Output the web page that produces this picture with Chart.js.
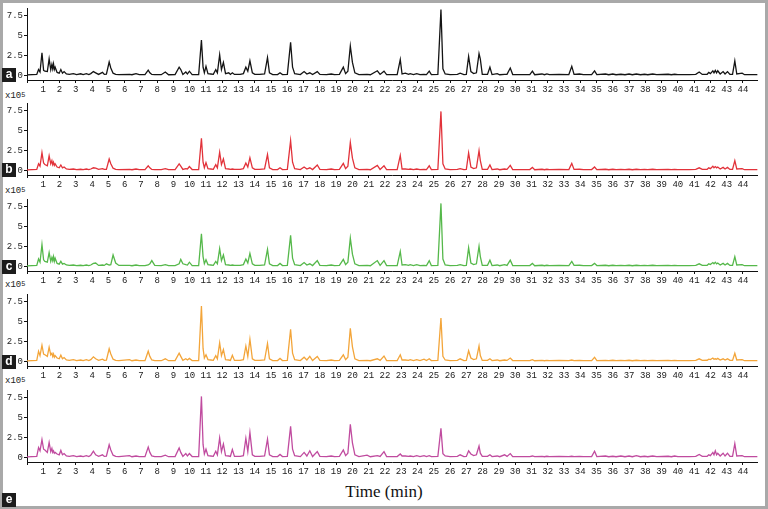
<!DOCTYPE html>
<html>
<head>
<meta charset="utf-8">
<script src="https://cdn.jsdelivr.net/npm/chart.js@4.4.0/dist/chart.umd.min.js"></script>
<style>
  html, body { margin: 0; padding: 0; background: #fff; }
  #wrap { position: relative; width: 768px; height: 509px; overflow: hidden; background: #fff; }
  #wrap canvas { position: absolute; left: 0; }
  .frame { position: absolute; left: 0; top: 0; width: 768px; height: 509px; box-sizing: border-box;
           border: 3px solid #a9a9a9; pointer-events: none; z-index: 5; }
  .tag { position: absolute; left: 2px; width: 14px; height: 14px; background: #1c1c1c; color: #fff;
         font: bold 12px 'Liberation Sans', Arial, sans-serif; line-height: 13px; text-align: center; z-index: 6; }
  .mult { position: absolute; left: 5px; font: 9px 'Liberation Mono', monospace; color: #222; line-height: 11px; }
  .mult sup { font-size: 7px; position: relative; top: -1px; vertical-align: top; }
  .xtitle { position: absolute; left: 0; width: 768px; top: 482px; text-align: center;
            font: 17px 'Liberation Serif', 'Times New Roman', serif; color: #111; }
</style>
</head>
<body>
<div id="wrap">
  <div class="frame"></div>
  <div class="tag" style="top:68px">a</div>
  <div class="tag" style="top:163px">b</div>
  <div class="tag" style="top:260px">c</div>
  <div class="tag" style="top:355px">d</div>
  <div class="tag" style="top:493px">e</div>
  <div class="mult" style="top:91px">x10<sup>5</sup></div>
  <div class="mult" style="top:186px">x10<sup>5</sup></div>
  <div class="mult" style="top:280px">x10<sup>5</sup></div>
  <div class="mult" style="top:376px">x10<sup>5</sup></div>
  <div class="xtitle">Time (min)</div>
</div>
<script>
// ── DATA ─────────────────────────────────────────────────────────────────────
// retention time (min), shared by all five traces
const times = [
  0, 0.6, 0.71, 0.8, 0.92, 1.02, 1.1, 1.25,
  1.36, 1.46, 1.53, 1.58, 1.63, 1.68, 1.73, 1.85, 1.98, 2.08, 2.18, 2.28, 2.42,
  2.6, 2.85, 3.05, 3.3, 3.45, 3.65, 3.8, 3.92, 4.08, 4.22, 4.4,
  4.64, 4.75, 4.88, 5.05, 5.15, 5.29, 5.45, 5.65,
  6.3, 6.45, 6.7, 6.9, 7.25, 7.45, 7.55, 7.67, 7.85, 8.25, 8.5, 8.7,
  9.1, 9.35, 9.45, 9.58, 9.76, 9.86, 9.98, 10.15,
  10.55, 10.72, 10.82, 10.9, 11.0, 11.12, 11.3, 11.45, 11.6, 11.7, 11.84, 11.95, 12.07, 12.2,
  12.4, 12.5, 12.62, 12.75, 13.1, 13.3, 13.45, 13.57, 13.7, 13.85, 14.0, 14.3,
  14.6, 14.78, 14.9, 15.1, 15.4, 15.55, 15.7, 16.0, 16.2, 16.32, 16.45,
  16.8, 17.03, 17.2, 17.38, 17.55, 17.84, 18.0, 18.4, 18.7, 18.9,
  19.2, 19.44, 19.58, 19.72, 19.87, 20.0, 20.15, 20.4, 20.9, 21.1,
  21.53, 21.7, 21.94, 22.1, 22.75, 22.94, 23.05, 23.25, 23.45, 23.55, 23.75, 23.95, 24.15,
  24.4, 24.55, 24.72, 24.85, 25.25, 25.44, 25.56, 25.7, 26.0,
  26.45, 26.62, 26.85, 27.0, 27.14, 27.28, 27.45, 27.62, 27.78, 27.86, 27.98, 28.3, 28.45, 28.58,
  28.9, 29.05, 29.35, 29.5, 29.7, 29.85, 30.4, 30.9, 31.06, 31.2,
  31.65, 31.8, 31.95, 32.1, 32.7, 33.3, 33.48, 33.62, 33.95, 34.2, 34.7, 34.88, 35.02,
  35.55, 35.75, 36.0, 36.2, 36.5, 36.75, 37.0, 37.2, 37.45, 37.7, 37.95, 38.15, 38.45, 38.7, 39.4, 39.6, 39.8, 40.0, 40.7,
  41.1, 41.31, 41.5, 41.8, 41.9, 42.0, 42.15, 42.22, 42.3, 42.38, 42.45, 42.6, 42.78, 42.9, 43.05, 43.2, 43.36, 43.5, 43.62, 43.95, 44.1, 44.9
];

// intensities (x10^5)
const sampleA = [
  0.05, 0.1, 0.7, 0.4, 2.8, 0.6, 0.5, 0.45,
  2.05, 0.7, 1.35, 0.8, 1.4, 0.7, 1.0, 0.35, 0.25, 0.7, 0.25, 0.45, 0.15,
  0.1, 0.2, 0.08, 0.18, 0.08, 0.2, 0.08, 0.2, 0.45, 0.3, 0.1,
  0.35, 0.1, 0.12, 1.65, 0.9, 0.25, 0.1, 0.06,
  0.1, 0.06, 0.2, 0.06, 0.06, 0.62, 0.3, 0.1, 0.06, 0.06, 0.4, 0.06,
  0.08, 1.0, 0.7, 0.1, 0.4, 0.15, 0.5, 0.08,
  0.08, 4.4, 1.0, 0.3, 1.1, 0.2, 0.15, 0.1, 0.7, 0.3, 2.55, 0.7, 1.6, 0.2,
  0.3, 0.1, 0.3, 0.1, 0.1, 0.2, 1.0, 0.5, 1.8, 0.3, 0.1, 0.1,
  0.15, 2.2, 0.3, 0.08, 0.08, 0.3, 0.08, 0.1, 4.1, 1.0, 0.2,
  0.08, 0.45, 0.15, 0.3, 0.08, 0.45, 0.1, 0.06, 0.15, 0.06,
  0.1, 1.0, 0.2, 0.5, 3.65, 1.6, 0.3, 0.08, 0.1, 0.06,
  0.55, 0.1, 0.5, 0.08, 0.08, 1.95, 0.15, 0.25, 0.1, 0.2, 0.08, 0.2, 0.08,
  0.1, 0.08, 0.5, 0.08, 0.1, 8.2, 0.8, 0.15, 0.08,
  0.1, 0.25, 0.08, 0.1, 2.35, 0.45, 0.2, 0.3, 2.7, 2.0, 0.1, 0.1, 1.0, 0.08,
  0.2, 0.06, 0.1, 0.1, 0.9, 0.08, 0.06, 0.08, 0.5, 0.06,
  0.15, 0.06, 0.15, 0.06, 0.1, 0.08, 1.1, 0.1, 0.15, 0.06, 0.08, 0.55, 0.08,
  0.15, 0.06, 0.15, 0.06, 0.12, 0.06, 0.15, 0.06, 0.15, 0.06, 0.12, 0.06, 0.15, 0.06, 0.12, 0.06, 0.12, 0.06, 0.06,
  0.1, 0.4, 0.1, 0.12, 0.35, 0.2, 0.55, 0.3, 0.6, 0.3, 0.55, 0.15, 0.45, 0.15, 0.45, 0.1, 0.1, 1.8, 0.15, 0.25, 0.06, 0.06
];
const sampleB = [
  0.05, 0.1, 0.8, 0.5, 2.2, 0.9, 0.7, 0.55,
  1.8, 0.8, 1.2, 0.7, 1.0, 0.6, 0.8, 0.4, 0.3, 0.65, 0.3, 0.4, 0.15,
  0.1, 0.15, 0.08, 0.12, 0.08, 0.15, 0.08, 0.15, 0.3, 0.25, 0.1,
  0.2, 0.1, 0.1, 1.4, 0.8, 0.25, 0.1, 0.06,
  0.1, 0.06, 0.15, 0.06, 0.06, 0.55, 0.3, 0.1, 0.06, 0.06, 0.2, 0.06,
  0.08, 0.8, 0.5, 0.1, 0.2, 0.15, 0.45, 0.08,
  0.08, 4.0, 1.0, 0.3, 0.95, 0.2, 0.15, 0.1, 0.7, 0.3, 2.25, 0.7, 1.4, 0.2,
  0.15, 0.1, 0.15, 0.1, 0.1, 0.2, 0.9, 0.4, 1.55, 0.3, 0.1, 0.1,
  0.15, 1.95, 0.3, 0.08, 0.08, 0.3, 0.08, 0.1, 3.7, 1.0, 0.2,
  0.08, 0.4, 0.15, 0.3, 0.08, 0.65, 0.1, 0.06, 0.15, 0.06,
  0.1, 0.85, 0.2, 0.5, 3.45, 1.5, 0.3, 0.08, 0.1, 0.06,
  0.6, 0.1, 0.55, 0.08, 0.08, 1.85, 0.15, 0.15, 0.1, 0.15, 0.08, 0.15, 0.08,
  0.1, 0.08, 0.55, 0.08, 0.1, 7.35, 0.8, 0.15, 0.08,
  0.1, 0.2, 0.08, 0.1, 2.17, 0.4, 0.2, 0.3, 2.45, 1.2, 0.1, 0.1, 0.65, 0.08,
  0.15, 0.06, 0.15, 0.1, 0.6, 0.08, 0.06, 0.08, 0.35, 0.06,
  0.12, 0.06, 0.12, 0.06, 0.1, 0.08, 0.85, 0.1, 0.12, 0.06, 0.08, 0.4, 0.08,
  0.12, 0.06, 0.12, 0.06, 0.1, 0.06, 0.12, 0.06, 0.12, 0.06, 0.1, 0.06, 0.12, 0.06, 0.1, 0.06, 0.1, 0.06, 0.06,
  0.1, 0.3, 0.1, 0.12, 0.3, 0.2, 0.5, 0.3, 0.45, 0.3, 0.4, 0.15, 0.35, 0.15, 0.35, 0.1, 0.1, 1.2, 0.15, 0.2, 0.06, 0.06
];
const sampleC = [
  0.05, 0.1, 0.9, 0.5, 2.7, 0.8, 0.6, 0.5,
  1.7, 0.6, 1.1, 0.7, 1.2, 0.6, 1.0, 0.35, 0.25, 0.6, 0.25, 0.35, 0.15,
  0.1, 0.15, 0.08, 0.12, 0.08, 0.15, 0.08, 0.15, 0.35, 0.4, 0.1,
  0.15, 0.1, 0.3, 0.15, 0.2, 1.4, 0.4, 0.1,
  0.1, 0.06, 0.15, 0.06, 0.06, 0.15, 0.3, 0.7, 0.1, 0.06, 0.2, 0.06,
  0.08, 0.3, 0.85, 0.3, 0.2, 0.15, 0.5, 0.08,
  0.08, 4.05, 1.2, 0.3, 0.8, 0.2, 0.15, 0.1, 0.6, 0.3, 2.2, 0.7, 1.4, 0.2,
  0.15, 0.1, 0.15, 0.1, 0.1, 0.2, 0.9, 0.4, 1.6, 0.3, 0.1, 0.1,
  0.15, 2.1, 0.3, 0.08, 0.08, 0.35, 0.08, 0.1, 3.85, 1.0, 0.2,
  0.08, 0.45, 0.15, 0.3, 0.08, 0.7, 0.1, 0.06, 0.15, 0.06,
  0.1, 0.85, 0.2, 0.5, 3.5, 1.5, 0.3, 0.08, 0.1, 0.06,
  0.7, 0.1, 0.7, 0.08, 0.08, 1.85, 0.15, 0.2, 0.1, 0.2, 0.08, 0.2, 0.08,
  0.1, 0.08, 0.7, 0.08, 0.1, 7.85, 0.9, 0.15, 0.08,
  0.1, 0.2, 0.08, 0.1, 2.3, 0.4, 0.2, 0.3, 2.5, 1.2, 0.1, 0.1, 0.75, 0.08,
  0.15, 0.06, 0.2, 0.1, 0.75, 0.08, 0.06, 0.08, 0.35, 0.06,
  0.12, 0.06, 0.12, 0.06, 0.1, 0.08, 0.6, 0.1, 0.12, 0.06, 0.08, 0.35, 0.08,
  0.12, 0.06, 0.12, 0.06, 0.1, 0.06, 0.12, 0.06, 0.12, 0.06, 0.1, 0.06, 0.12, 0.06, 0.1, 0.06, 0.1, 0.06, 0.06,
  0.1, 0.3, 0.1, 0.12, 0.3, 0.2, 0.45, 0.3, 0.5, 0.3, 0.4, 0.15, 0.35, 0.15, 0.35, 0.1, 0.1, 1.2, 0.15, 0.2, 0.06, 0.06
];
const sampleD = [
  0.05, 0.1, 1.25, 0.7, 2.0, 0.9, 0.8, 0.6,
  1.75, 0.8, 1.0, 0.6, 0.9, 0.5, 0.7, 0.4, 0.3, 0.75, 0.3, 0.45, 0.15,
  0.1, 0.2, 0.08, 0.15, 0.08, 0.2, 0.08, 0.2, 0.55, 0.3, 0.1,
  0.25, 0.1, 0.12, 1.55, 0.9, 0.25, 0.1, 0.06,
  0.2, 0.06, 0.15, 0.06, 0.06, 1.25, 0.6, 0.15, 0.06, 0.06, 0.3, 0.06,
  0.08, 1.0, 0.6, 0.1, 0.3, 0.15, 0.35, 0.08,
  0.08, 6.9, 1.6, 0.4, 0.8, 0.2, 0.15, 0.1, 0.7, 0.3, 2.3, 0.7, 1.45, 0.2,
  0.15, 0.1, 0.75, 0.1, 0.1, 0.2, 1.9, 0.6, 2.75, 0.3, 0.1, 0.1,
  0.15, 2.2, 0.3, 0.08, 0.08, 0.35, 0.08, 0.1, 4.0, 1.0, 0.2,
  0.08, 0.5, 0.15, 0.6, 0.08, 0.6, 0.1, 0.06, 0.15, 0.06,
  0.1, 0.8, 0.2, 0.5, 4.1, 1.8, 0.3, 0.08, 0.1, 0.06,
  0.3, 0.1, 0.65, 0.08, 0.08, 0.8, 0.15, 0.15, 0.1, 0.2, 0.08, 0.2, 0.08,
  0.25, 0.08, 0.3, 0.08, 0.1, 5.4, 0.6, 0.15, 0.08,
  0.1, 0.3, 0.08, 0.1, 1.3, 0.4, 0.2, 0.3, 1.9, 0.7, 0.1, 0.1, 0.3, 0.08,
  0.15, 0.06, 0.15, 0.1, 0.4, 0.08, 0.06, 0.08, 0.2, 0.06,
  0.1, 0.06, 0.1, 0.06, 0.1, 0.08, 0.15, 0.08, 0.1, 0.06, 0.08, 0.5, 0.08,
  0.1, 0.06, 0.12, 0.06, 0.1, 0.06, 0.12, 0.06, 0.12, 0.06, 0.1, 0.06, 0.1, 0.06, 0.1, 0.06, 0.1, 0.06, 0.06,
  0.1, 0.3, 0.1, 0.12, 0.25, 0.2, 0.4, 0.25, 0.3, 0.25, 0.35, 0.15, 0.3, 0.15, 0.3, 0.1, 0.1, 1.0, 0.15, 0.2, 0.06, 0.06
];
const sampleE = [
  0.05, 0.1, 1.2, 0.8, 2.2, 1.0, 0.9, 0.6,
  1.85, 0.7, 1.1, 0.6, 0.8, 0.5, 0.6, 0.4, 0.3, 0.85, 0.3, 0.45, 0.15,
  0.1, 0.2, 0.08, 0.15, 0.08, 0.2, 0.08, 0.25, 0.75, 0.3, 0.1,
  0.3, 0.1, 0.12, 1.55, 0.9, 0.25, 0.1, 0.06,
  0.2, 0.06, 0.15, 0.06, 0.06, 1.27, 0.6, 0.15, 0.06, 0.06, 0.25, 0.06,
  0.08, 1.15, 0.6, 0.1, 0.45, 0.15, 0.45, 0.08,
  0.08, 7.6, 1.6, 0.4, 1.0, 0.2, 0.15, 0.1, 0.75, 0.3, 2.4, 0.7, 1.65, 0.2,
  0.15, 0.1, 0.95, 0.1, 0.1, 0.2, 2.35, 0.7, 3.1, 0.3, 0.1, 0.1,
  0.15, 2.25, 0.3, 0.08, 0.08, 0.35, 0.08, 0.1, 3.85, 1.0, 0.2,
  0.08, 0.6, 0.15, 0.8, 0.08, 0.7, 0.1, 0.06, 0.15, 0.06,
  0.1, 0.9, 0.2, 0.5, 4.1, 1.8, 0.3, 0.08, 0.25, 0.06,
  0.2, 0.1, 0.7, 0.08, 0.08, 0.4, 0.15, 0.15, 0.1, 0.15, 0.08, 0.2, 0.08,
  0.2, 0.08, 0.2, 0.08, 0.1, 3.6, 0.45, 0.15, 0.08,
  0.1, 0.3, 0.08, 0.1, 0.8, 0.4, 0.2, 0.3, 1.4, 0.5, 0.1, 0.1, 0.3, 0.08,
  0.15, 0.06, 0.3, 0.1, 0.45, 0.08, 0.06, 0.08, 0.15, 0.06,
  0.1, 0.06, 0.12, 0.06, 0.1, 0.08, 0.12, 0.08, 0.1, 0.06, 0.08, 0.75, 0.08,
  0.15, 0.06, 0.12, 0.06, 0.15, 0.06, 0.15, 0.06, 0.2, 0.06, 0.12, 0.06, 0.15, 0.06, 0.12, 0.06, 0.15, 0.06, 0.06,
  0.1, 0.35, 0.1, 0.12, 0.3, 0.2, 0.6, 0.3, 0.8, 0.3, 0.5, 0.15, 0.5, 0.15, 0.5, 0.1, 0.1, 1.7, 0.15, 0.2, 0.06, 0.06
];

const yTicks = [0, 2.5, 5, 7.5];

// ── PANELS ───────────────────────────────────────────────────────────────────
const panels = [
  { values: sampleA, color: '#141414', top: 0 },
  { values: sampleB, color: '#e2323a', top: 95 },
  { values: sampleC, color: '#55b84a', top: 191 },
  { values: sampleD, color: '#f3a53a', top: 286 },
  { values: sampleE, color: '#c04b9f', top: 382 },
];

const tickFont = { family: "'Liberation Mono', monospace", size: 9 };
const axisCol = '#111';

const wrap = document.getElementById('wrap');

panels.forEach(p => {
  if (p.values.length !== times.length) console.warn('length mismatch', p.values.length, times.length);
  const cv = document.createElement('canvas');
  cv.width = 768; cv.height = 96;
  cv.style.top = p.top + 'px';
  wrap.appendChild(cv);

  new Chart(cv.getContext('2d'), {
    type: 'line',
    data: {
      datasets: [{
        data: times.map((t, k) => ({ x: t, y: p.values[k] })),
        borderColor: p.color, borderWidth: 1.3, pointRadius: 0, tension: 0, fill: false
      }]
    },
    options: {
      responsive: false, animation: false, events: [],
      layout: { padding: { top: 8, right: 10.4, left: 0, bottom: 0 } },
      plugins: { legend: { display: false }, tooltip: { enabled: false } },
      scales: {
        x: {
          type: 'linear', min: 0, max: 44.9,
          afterFit: s => { s.height = 16; },
          border: { color: axisCol, width: 1 },
          grid: { drawOnChartArea: false, tickLength: 3, color: axisCol },
          ticks: {
            stepSize: 1, includeBounds: false, autoSkip: false, maxRotation: 0, padding: 1,
            color: '#1a1a1a', font: tickFont,
            callback: v => v === 0 ? '' : String(v)
          }
        },
        y: {
          min: -0.6, max: 8.4,
          afterFit: s => { s.width = 27; },
          afterBuildTicks: s => { s.ticks = yTicks.map(v => ({ value: v })); },
          border: { color: axisCol, width: 1 },
          grid: { drawOnChartArea: false, tickLength: 3, color: axisCol },
          ticks: { padding: 1, color: '#1a1a1a', font: tickFont, callback: v => String(v) }
        }
      }
    }
  });
});
</script>
</body>
</html>
